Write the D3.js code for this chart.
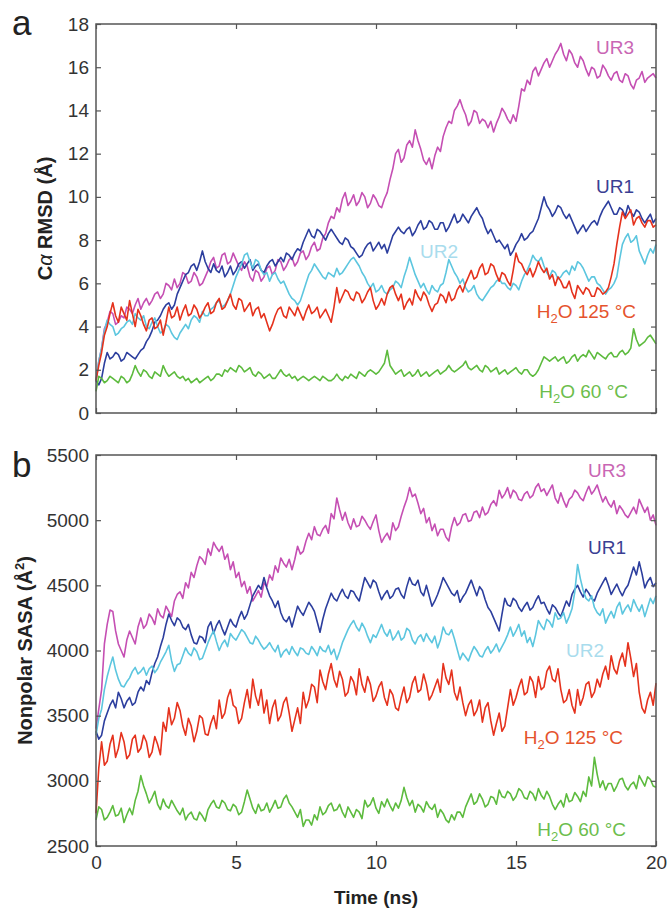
<!DOCTYPE html>
<html>
<head>
<meta charset="utf-8">
<script src="https://cdn.jsdelivr.net/npm/d3@7"></script>
<style>
  body { margin: 0; background: #fff; }
  svg { display: block; font-family: "Liberation Sans", Arial, sans-serif; }
</style>
</head>
<body>
<div id="chart"></div>
<script>
// trajectories sampled every 0.1 ns over 0..20 ns
const tMax = 20;

// panel a: C-alpha RMSD (Å)
const rmsdUR3 = [1.5,2.4,3.0,3.9,4.2,4.7,4.6,4.1,4.2,4.5,4.4,4.9,4.8,4.6,5.0,5.3,4.8,5.1,5.3,5.0,5.2,5.5,5.6,5.3,5.5,6.0,5.9,5.7,6.2,5.8,6.0,6.5,6.4,6.0,6.1,6.5,6.3,5.9,6.0,6.3,6.6,7.0,7.2,6.7,6.8,7.3,7.4,6.9,7.0,7.4,7.1,6.8,6.6,7.0,6.8,6.3,6.1,6.6,6.5,6.1,6.3,6.7,6.8,6.4,6.6,7.1,7.0,6.6,6.8,7.1,7.2,6.8,7.0,7.4,7.5,7.1,7.3,7.7,7.9,7.5,7.6,8.1,8.3,8.8,9.1,9.0,9.5,9.3,9.9,10.2,9.6,9.8,10.1,9.6,9.8,10.2,10.0,9.5,9.7,10.1,9.9,9.6,9.5,9.9,10.2,10.8,11.3,12.0,12.2,11.6,11.8,12.4,12.6,12.3,13.1,12.6,12.2,11.7,11.5,11.8,11.3,11.9,12.3,12.1,12.8,13.2,13.5,13.4,14.0,14.2,14.5,14.1,13.8,13.3,13.5,14.0,13.9,13.4,13.6,13.5,13.2,13.5,13.0,13.4,13.7,14.1,13.9,13.6,13.4,13.8,13.5,14.2,15.0,14.9,15.4,15.2,15.8,16.0,15.6,15.9,16.2,16.4,16.0,16.3,16.6,16.8,17.1,16.6,16.3,16.8,16.6,16.2,16.0,16.5,16.3,15.9,15.6,16.0,15.9,15.5,15.6,16.1,15.9,15.6,15.4,15.7,15.8,15.4,15.3,15.7,15.6,15.2,15.0,15.4,15.5,15.8,15.3,15.5,15.6,15.7,15.5];
const rmsdUR1 = [1.5,1.3,1.6,2.3,2.8,2.5,2.6,2.8,2.7,2.4,2.5,2.8,2.7,2.6,2.5,2.7,2.9,3.0,3.3,3.5,3.8,4.2,4.3,4.5,4.8,5.0,5.1,4.8,5.0,5.5,5.8,6.1,6.4,6.5,6.8,6.9,6.6,7.0,7.5,7.0,6.7,6.5,6.9,6.6,6.5,6.8,6.3,6.5,6.8,6.4,6.6,6.9,7.0,6.7,6.9,7.1,6.6,6.8,6.9,6.6,6.5,6.8,7.0,7.1,6.8,7.0,7.2,7.0,7.4,7.3,7.1,7.4,7.6,7.5,7.9,8.2,8.5,8.2,8.1,8.5,8.4,8.2,8.0,8.3,8.5,8.3,8.1,7.9,7.8,8.1,8.0,7.7,7.6,7.4,7.2,7.3,7.6,7.8,7.9,7.5,7.7,7.9,7.6,7.8,7.4,7.8,8.2,8.4,8.6,8.4,8.3,8.5,8.6,8.2,8.4,8.7,8.9,8.5,8.6,8.9,8.8,8.5,8.5,8.8,8.8,8.4,8.6,8.9,9.2,8.8,8.9,9.2,9.0,8.8,9.1,9.3,9.5,9.2,9.0,8.6,8.3,8.5,8.2,7.9,8.0,7.8,7.6,7.8,7.3,7.5,7.8,8.0,8.3,8.0,8.1,8.3,8.4,8.7,9.0,9.5,10.0,9.6,9.4,9.1,9.3,9.6,9.5,9.2,9.0,9.2,8.9,8.6,8.3,8.5,8.7,8.4,8.6,8.8,8.9,8.7,9.1,9.4,9.6,9.8,9.5,9.2,9.2,9.5,9.4,9.1,9.6,9.3,9.1,9.4,9.3,9.0,8.8,9.0,9.2,8.8,9.0];
const rmsdUR2 = [1.5,2.4,3.0,3.8,4.3,4.1,4.0,3.6,3.7,3.9,4.0,4.2,4.3,4.1,4.6,4.4,4.3,4.5,4.0,3.9,4.2,4.4,4.0,3.7,3.8,4.1,4.0,3.7,3.5,3.4,3.7,3.9,4.1,3.9,4.3,4.5,4.4,4.2,4.7,4.5,4.5,4.8,4.9,5.1,5.2,4.9,5.0,5.2,5.5,5.9,6.3,6.6,6.9,7.3,7.4,7.0,6.7,7.1,7.0,6.6,6.4,6.5,6.1,6.4,6.5,6.2,6.0,6.1,5.8,5.5,5.3,5.2,5.0,5.2,5.6,6.0,6.4,6.6,6.9,6.7,6.5,6.3,6.2,6.5,6.4,6.3,6.7,6.4,6.5,6.7,6.9,7.1,7.2,7.0,6.8,6.5,6.3,6.0,5.8,6.0,5.6,5.7,5.9,5.6,5.5,5.7,5.8,6.1,6.0,5.8,6.3,6.7,7.2,6.8,6.4,6.1,5.8,6.0,5.7,5.5,5.9,5.7,5.6,5.9,6.0,6.5,7.1,6.8,6.5,6.3,6.0,6.2,5.8,5.6,5.7,5.9,5.5,5.3,5.2,5.4,5.6,5.8,5.9,6.1,6.2,6.0,6.0,5.8,5.7,6.0,5.9,5.7,6.1,6.4,6.6,6.9,7.3,7.1,7.0,7.2,6.8,6.5,6.3,6.6,6.5,6.2,6.3,6.5,6.6,6.4,6.8,6.6,7.0,6.9,6.7,6.4,6.1,6.3,6.3,6.0,5.9,5.7,5.5,5.7,5.8,6.0,6.3,7.1,7.8,8.1,8.3,7.9,8.0,8.2,7.5,7.2,6.9,7.3,7.6,7.4,7.8];
const rmsdW125 = [1.5,2.2,2.8,3.6,4.0,4.6,5.1,4.5,4.2,4.9,4.6,4.3,5.2,4.6,4.0,4.8,4.5,4.1,3.8,4.3,4.4,3.9,4.0,4.3,3.6,4.2,4.9,4.4,4.5,4.9,4.3,4.7,5.0,4.5,4.6,5.0,4.8,4.4,4.6,4.9,5.1,4.6,4.7,5.1,5.3,4.8,4.9,5.2,5.5,5.0,4.8,5.3,5.2,4.7,4.9,5.1,4.5,4.8,4.9,4.4,4.6,4.2,3.8,4.1,4.5,4.8,4.9,4.5,4.4,4.9,4.7,4.5,4.9,4.6,4.3,4.7,5.0,4.6,4.7,4.9,4.4,4.6,4.8,4.5,4.2,4.9,5.8,5.1,5.4,5.7,5.6,5.3,5.2,5.6,5.5,5.1,5.3,5.6,5.8,5.2,4.8,5.0,5.3,5.0,5.5,5.8,5.9,5.5,5.2,5.5,4.8,5.1,5.3,5.0,5.7,5.4,5.2,5.6,5.4,5.0,4.7,5.0,5.1,5.5,5.4,5.1,5.6,5.2,5.3,5.7,5.9,5.6,6.0,6.3,6.6,6.2,6.3,6.7,6.9,6.4,6.5,6.9,6.8,6.4,6.1,6.5,6.4,6.1,5.9,6.6,7.4,7.0,6.9,6.6,6.4,6.7,6.3,6.6,7.0,6.7,6.5,6.7,6.2,6.4,5.9,6.3,6.1,5.8,5.8,6.1,5.6,5.3,5.9,5.7,5.5,5.8,5.7,5.4,5.4,5.8,5.7,5.5,5.6,5.8,6.3,6.9,7.8,8.6,9.3,9.0,9.2,9.4,8.7,9.0,9.1,8.8,8.6,8.9,8.9,8.6,8.7];
const rmsdW60 = [1.0,1.7,1.6,1.4,1.5,1.7,1.6,1.5,1.4,1.7,1.6,1.4,1.5,1.8,2.2,1.9,1.7,2.0,1.9,1.7,1.6,1.9,1.8,1.7,2.2,1.9,1.7,1.8,1.9,1.7,1.6,1.7,1.5,1.6,1.4,1.5,1.6,1.4,1.5,1.6,1.7,1.5,1.6,1.8,1.8,1.7,2.0,1.9,2.1,2.0,1.9,2.2,2.1,1.9,2.0,2.1,1.8,1.7,1.9,1.8,1.6,1.7,1.8,1.6,1.6,1.8,2.0,1.8,1.7,1.8,1.6,1.7,1.5,1.6,1.7,1.6,1.5,1.6,1.7,1.6,1.5,1.7,1.6,1.5,1.5,1.6,1.8,1.6,1.5,1.7,1.6,1.8,1.7,1.6,1.9,1.8,1.7,1.9,2.0,1.9,1.8,1.9,2.1,2.3,2.9,2.2,2.0,1.8,1.9,2.0,1.7,1.8,1.9,1.7,1.8,2.0,1.7,1.8,1.9,1.7,1.8,1.9,2.0,1.8,1.9,2.0,2.2,2.0,1.9,2.0,2.1,2.2,2.4,2.1,2.0,2.1,2.2,2.0,1.9,2.2,2.1,1.9,2.0,2.1,1.8,1.9,2.0,1.8,1.9,2.0,2.1,1.9,1.8,2.0,2.0,1.8,1.7,1.8,2.0,2.3,2.6,2.5,2.4,2.5,2.6,2.4,2.5,2.6,2.3,2.4,2.6,2.7,2.4,2.6,2.7,2.6,2.9,2.7,2.5,2.8,2.7,2.6,2.5,2.7,2.8,2.6,2.6,2.8,2.9,2.7,2.8,3.0,3.9,3.4,3.1,3.2,3.3,3.5,3.6,3.4,3.2];

// panel b: nonpolar SASA (Å²)
const sasaUR3 = [3400,3550,3700,4050,4200,4310,4300,4150,4050,4000,3950,4080,4150,4100,4050,4180,4250,4170,4200,4280,4250,4200,4320,4270,4250,4340,4300,4260,4380,4430,4450,4400,4520,4480,4600,4560,4650,4720,4700,4660,4780,4730,4830,4790,4760,4800,4700,4740,4620,4680,4560,4600,4490,4530,4440,4490,4380,4420,4460,4410,4520,4490,4580,4540,4650,4600,4710,4670,4640,4700,4620,4700,4800,4740,4760,4840,4900,4850,4950,4890,4880,4930,4960,4900,5050,5010,5170,5080,5000,5060,4980,4930,5010,4950,4960,5030,5000,4960,4930,4990,5040,4920,4830,4870,4900,4850,4980,4920,4950,5030,5100,5160,5250,5180,5200,5130,5050,5090,4980,5020,4920,4970,4880,4930,4930,4870,4840,4950,5020,4960,4980,5040,5050,4990,5000,5060,5070,5020,5100,5040,5060,5120,5150,5110,5230,5170,5200,5250,5170,5230,5210,5160,5150,5200,5220,5170,5190,5250,5280,5220,5240,5190,5230,5270,5170,5130,5210,5150,5100,5160,5180,5230,5210,5170,5150,5210,5260,5200,5230,5270,5200,5140,5180,5130,5100,5150,5050,5110,5080,5040,5020,5060,5100,5050,5160,5110,5060,5100,5000,5040,4960];
const sasaUR1 = [3380,3320,3350,3460,3520,3580,3620,3560,3680,3630,3560,3610,3640,3580,3600,3680,3720,3690,3770,3740,3830,3900,3950,4030,4100,4200,4280,4230,4190,4250,4230,4180,4160,4200,4120,4060,4050,4110,4100,4060,4180,4220,4130,4190,4230,4170,4120,4180,4240,4200,4180,4250,4300,4240,4280,4350,4420,4460,4500,4470,4560,4480,4420,4380,4330,4380,4290,4240,4220,4260,4180,4260,4340,4300,4270,4320,4370,4340,4300,4220,4140,4240,4320,4380,4440,4400,4380,4430,4470,4420,4400,4460,4450,4410,4380,4470,4560,4520,4480,4540,4520,4450,4390,4430,4460,4400,4420,4470,4480,4430,4400,4490,4560,4510,4500,4540,4450,4420,4500,4420,4340,4380,4430,4490,4560,4520,4480,4440,4420,4460,4370,4410,4440,4490,4540,4480,4420,4490,4460,4390,4330,4300,4250,4200,4150,4280,4400,4350,4340,4400,4380,4330,4300,4340,4370,4310,4330,4380,4420,4360,4370,4320,4280,4350,4330,4290,4260,4320,4380,4340,4430,4470,4500,4450,4410,4470,4440,4400,4380,4440,4480,4520,4560,4500,4430,4470,4510,4460,4420,4470,4500,4570,4640,4580,4680,4590,4480,4530,4560,4490,4520];
const sasaUR2 = [3350,3480,3550,3700,3800,3880,3950,3850,3780,3730,3720,3760,3790,3840,3870,3820,3840,3870,3810,3860,3880,3830,3860,3910,3950,3990,4040,3920,3840,3890,3900,3960,4020,3980,3960,4020,3990,3930,3940,4000,4060,4110,4150,4070,4000,4050,4080,4030,4130,4100,4080,4120,4160,4140,4100,4060,4050,4110,4080,4040,4010,4030,4060,4020,3990,4040,3950,3990,4010,3970,4030,3990,3960,4020,4010,3980,3970,4030,4000,3960,4030,4000,3990,4040,3970,4010,3930,3990,4060,4110,4160,4200,4230,4180,4150,4210,4170,4110,4060,4120,4100,4150,4200,4140,4110,4160,4080,4110,4150,4080,4100,4170,4150,4080,4050,4100,4120,4070,4130,4090,4060,4110,4020,4080,4180,4130,4120,4160,4090,4010,3930,3980,3950,3920,3980,4030,4000,3960,3950,4000,4030,3980,4010,4050,3990,4030,4070,4120,4180,4110,4150,4200,4110,4150,4060,4100,4030,4120,4230,4190,4160,4240,4220,4180,4290,4240,4250,4290,4210,4260,4320,4450,4660,4550,4460,4400,4380,4420,4330,4290,4270,4320,4210,4260,4300,4250,4330,4370,4280,4320,4350,4300,4390,4340,4300,4350,4260,4330,4400,4360,4420];
const sasaW125 = [2750,3100,3300,3120,3150,3280,3350,3180,3250,3370,3300,3170,3200,3320,3350,3220,3250,3350,3300,3180,3220,3340,3280,3200,3450,3380,3560,3430,3480,3600,3540,3420,3350,3480,3420,3300,3380,3500,3480,3360,3350,3440,3500,3400,3620,3480,3520,3640,3700,3580,3560,3440,3480,3600,3700,3560,3780,3650,3580,3700,3520,3620,3440,3560,3620,3460,3500,3600,3640,3520,3380,3470,3560,3440,3680,3560,3620,3740,3720,3600,3850,3760,3700,3820,3900,3780,3720,3840,3780,3650,3680,3800,3760,3660,3860,3740,3680,3800,3740,3610,3650,3720,3760,3640,3580,3700,3660,3560,3540,3640,3720,3600,3640,3750,3800,3680,3700,3820,3740,3620,3660,3720,3780,3680,3900,3790,3740,3850,3680,3620,3720,3600,3500,3580,3620,3500,3540,3620,3450,3560,3600,3460,3350,3440,3520,3380,3420,3560,3700,3580,3640,3720,3780,3660,3680,3800,3760,3640,3800,3700,3720,3840,3880,3780,3760,3860,3700,3600,3620,3700,3580,3520,3700,3580,3640,3740,3760,3640,3680,3780,3720,3820,3880,3780,3960,3860,3820,3920,3980,3880,4060,3940,3800,3900,3680,3560,3520,3620,3680,3580,3750];
const sasaW60 = [2700,2800,2780,2700,2720,2760,2810,2730,2740,2790,2680,2740,2790,2740,2850,2920,3040,2960,2900,2830,2870,2920,2820,2780,2860,2810,2790,2850,2810,2770,2740,2790,2700,2740,2760,2710,2700,2760,2730,2690,2780,2820,2850,2800,2790,2850,2830,2780,2770,2820,2800,2740,2760,2840,2930,2860,2790,2750,2820,2770,2780,2830,2760,2800,2850,2790,2800,2860,2890,2830,2800,2760,2720,2780,2650,2700,2700,2660,2740,2700,2800,2740,2760,2810,2830,2770,2780,2820,2760,2720,2800,2760,2720,2780,2760,2710,2850,2800,2820,2870,2790,2750,2840,2800,2860,2810,2770,2830,2790,2850,2950,2870,2810,2850,2760,2820,2800,2760,2840,2800,2780,2820,2720,2780,2750,2700,2680,2740,2700,2760,2760,2720,2800,2850,2900,2820,2840,2900,2860,2800,2820,2880,2870,2820,2930,2880,2870,2920,2900,2850,2880,2940,2920,2870,2860,2920,2900,2850,2940,2890,2860,2920,2880,2820,2780,2820,2850,2800,2900,2840,2850,2910,2880,2840,2920,2880,3030,2960,3180,3050,2950,3000,2930,2980,2980,2920,2960,3010,3020,2960,2930,2970,2990,2940,3040,3000,2960,3030,3010,2960,2950];

const seriesNames = ["UR3", "UR1", "UR2", "H2O 125", "H2O 60"];
const seriesColors = ["#c54fb3", "#2c3e9e", "#5cc6df", "#e5321d", "#5dbb3e"];
const labelColors = ["#c966b4", "#3b3f93", "#a9dced", "#e5532d", "#6cbd4c"];

const rmsdSeries = [rmsdUR3, rmsdUR1, rmsdUR2, rmsdW125, rmsdW60];
const sasaSeries = [sasaUR3, sasaUR1, sasaUR2, sasaW125, sasaW60];

const timeTicks = [0, 5, 10, 15, 20];
const rmsdTicks = [0, 2, 4, 6, 8, 10, 12, 14, 16, 18];
const sasaTicks = [2500, 3000, 3500, 4000, 4500, 5000, 5500];

const width = 668, height = 909;
const svg = d3.select("#chart").append("svg")
  .attr("width", width)
  .attr("height", height);

const x = d3.scaleLinear().domain([0, tMax]).range([96, 656]);

function drawPanel(opts) {
  const y = d3.scaleLinear().domain(opts.domain).range([opts.bottom, opts.top]);
  const g = svg.append("g");

  // lines first, box drawn over them
  opts.series.forEach((s, k) => {
    const line = d3.line()
      .x((d, i) => x(i * tMax / (s.length - 1)))
      .y(d => y(d));
    g.append("path")
      .datum(s)
      .attr("fill", "none")
      .attr("stroke", seriesColors[k])
      .attr("stroke-width", 1.6)
      .attr("stroke-linejoin", "round")
      .attr("d", line);
  });

  // inward ticks on all four sides
  const yl = g.append("g").attr("transform", "translate(96,0)")
    .call(d3.axisLeft(y).tickValues(opts.ticks).tickSize(-5).tickPadding(7).tickFormat(d3.format("d")));
  const yr = g.append("g").attr("transform", "translate(656,0)")
    .call(d3.axisRight(y).tickValues(opts.ticks).tickSize(-5).tickFormat(""));
  const xb = g.append("g").attr("transform", `translate(0,${opts.bottom})`)
    .call(d3.axisBottom(x).tickValues(timeTicks).tickSize(-5).tickPadding(10)
      .tickFormat(opts.xLabels ? d3.format("d") : ""));
  const xt = g.append("g").attr("transform", `translate(0,${opts.top})`)
    .call(d3.axisTop(x).tickValues(timeTicks).tickSize(-5).tickFormat(""));

  [yl, yr, xb, xt].forEach(a => {
    a.select(".domain").remove();
    a.selectAll("line").attr("stroke", "#555").attr("stroke-width", 1.2);
    a.selectAll("text").attr("fill", "#333").style("font-size", "19px")
      .style("font-family", "'Liberation Sans', Arial, sans-serif");
  });

  g.append("rect")
    .attr("x", 96).attr("y", opts.top)
    .attr("width", 560).attr("height", opts.bottom - opts.top)
    .attr("fill", "none").attr("stroke", "#555").attr("stroke-width", 1.5);

  // panel letter
  g.append("text")
    .attr("x", 12).attr("y", opts.letterY)
    .style("font-size", "35px").attr("fill", "#222")
    .text(opts.letter);

  // y axis title
  const yt = g.append("text")
    .attr("transform", `translate(${opts.yTitleX},${(opts.top + opts.bottom) / 2}) rotate(-90)`)
    .attr("text-anchor", "middle")
    .style("font-size", "20px").style("font-weight", "bold").attr("fill", "#222");
  opts.yTitle(yt);

  // series labels, right-aligned
  opts.labels.forEach((p, k) => {
    const t = g.append("text")
      .attr("x", p[0]).attr("y", y(p[1]))
      .attr("dy", "0.35em")
      .attr("text-anchor", "end")
      .style("font-size", "19px")
      .attr("fill", labelColors[k]);
    if (seriesNames[k].startsWith("H2O")) {
      t.append("tspan").text("H");
      t.append("tspan").attr("dy", 5).style("font-size", "13px").text("2");
      t.append("tspan").attr("dy", -5).text("O " + seriesNames[k].split(" ")[1] + " °C");
    } else {
      t.text(seriesNames[k]);
    }
  });

  return y;
}

drawPanel({
  top: 24, bottom: 413, domain: [0, 18],
  series: rmsdSeries, ticks: rmsdTicks, xLabels: false, letter: "a", letterY: 35,
  yTitleX: 52,
  yTitle: t => {
    t.append("tspan").text("C");
    t.append("tspan").style("font-weight", "normal").style("font-style", "italic").text("α");
    t.append("tspan").text(" RMSD (Å)");
  },
  // [right edge x, value]
  labels: [[634, 16.9], [634, 10.5], [458, 7.5], [636, 4.7], [628, 1.0]]
});

drawPanel({
  top: 455, bottom: 846, domain: [2500, 5500],
  series: sasaSeries, ticks: sasaTicks, xLabels: true, letter: "b", letterY: 477,
  yTitleX: 32,
  yTitle: t => {
    t.append("tspan").text("Nonpolar SASA (Å");
    t.append("tspan").attr("dy", -8).style("font-size", "13px").text("2");
    t.append("tspan").attr("dy", 8).text(")");
  },
  labels: [[626, 5385], [626, 4790], [604, 4000], [623, 3330], [626, 2630]]
});

svg.append("text")
  .attr("x", 376).attr("y", 904)
  .attr("text-anchor", "middle")
  .style("font-size", "19px").style("font-weight", "bold").attr("fill", "#222")
  .text("Time (ns)");
</script>
</body>
</html>
